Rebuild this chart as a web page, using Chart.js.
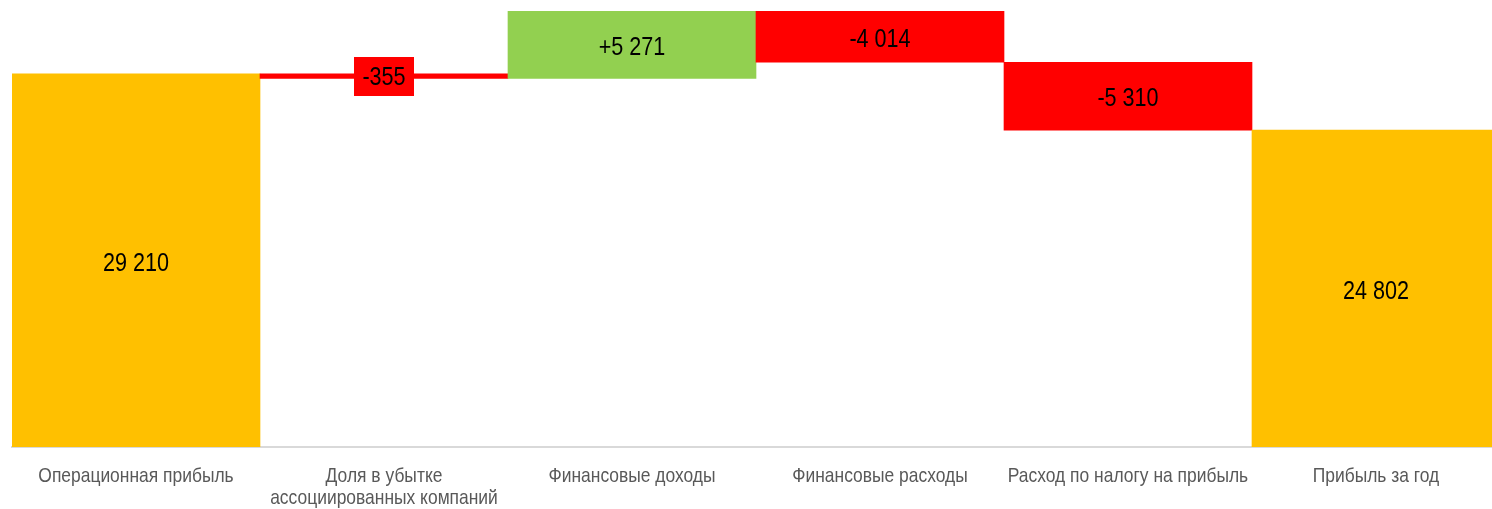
<!DOCTYPE html>
<html>
<head>
<meta charset="utf-8">
<script src="https://cdn.jsdelivr.net/npm/chart.js@4/dist/chart.umd.min.js"></script>
<style>
html,body{margin:0;padding:0;background:#fff;overflow:hidden;width:1492px;height:509px;}
#wrap{position:absolute;left:0;top:0;width:1500px;height:509px;}
</style>
</head>
<body>
<div id="wrap"><canvas id="c" width="1500" height="509"></canvas></div>
<script>
const categories = [
  "Операционная прибыль",
  ["Доля в убытке", "ассоциированных компаний"],
  "Финансовые доходы",
  "Финансовые расходы",
  "Расход по налогу на прибыль",
  "Прибыль за год"
];
const values = [29210, -355, 5271, -4014, -5310, 24802];
const isTotal = [true, false, false, false, false, true];
const valueLabels = ["29 210", "-355", "+5 271", "-4 014", "-5 310", "24 802"];
const boxedLabel = [false, true, false, false, false, false];

const GOLD = "#FFC000", RED = "#FF0000", GREEN = "#92D050";

let run = 0;
const ranges = values.map((v, i) => {
  if (isTotal[i]) { run = v; return [0, v]; }
  const s = run; run += v; return [s, run];
});
const colors = values.map((v, i) => isTotal[i] ? GOLD : (v < 0 ? RED : GREEN));
const peak = Math.max(...ranges.map(r => Math.max(r[0], r[1])));

const FONT = "'Liberation Sans', Arial, sans-serif";
const NARROW = 0.83;

function narrowText(ctx, txt, x, y) {
  ctx.save();
  ctx.translate(x, y);
  ctx.scale(NARROW, 1);
  ctx.fillText(txt, 0, 0);
  ctx.restore();
}

const labelPlugin = {
  id: 'vlabels',
  afterDatasetsDraw(chart) {
    const ctx = chart.ctx;
    const meta = chart.getDatasetMeta(0);
    ctx.save();
    ctx.font = "26px " + FONT;
    ctx.textAlign = "center";
    ctx.textBaseline = "middle";
    meta.data.forEach((bar, i) => {
      const cx = bar.x;
      const cy = (bar.y + bar.base) / 2;
      const txt = valueLabels[i];
      if (boxedLabel[i]) {
        const w = ctx.measureText(txt).width * NARROW + 17;
        const h = 39;
        ctx.fillStyle = colors[i];
        ctx.fillRect(Math.round(cx - w / 2), Math.round(cy - h / 2), Math.round(w), h);
      }
      ctx.fillStyle = "#000";
      narrowText(ctx, txt, cx, cy + (boxedLabel[i] ? 2 : 3));
    });
    ctx.restore();
  },
  afterDraw(chart) {
    const ctx = chart.ctx;
    const xs = chart.scales.x;
    ctx.save();
    ctx.font = "21px " + FONT;
    ctx.fillStyle = "#595959";
    ctx.textAlign = "center";
    ctx.textBaseline = "middle";
    categories.forEach((lab, i) => {
      const x = xs.getPixelForTick(i);
      const lines = Array.isArray(lab) ? lab : [lab];
      lines.forEach((ln, j) => {
        narrowText(ctx, ln, x, xs.top + 29 + j * 22);
      });
    });
    ctx.restore();
  }
};

new Chart(document.getElementById('c'), {
  type: 'bar',
  data: {
    labels: categories,
    datasets: [{
      data: ranges,
      backgroundColor: colors,
      borderWidth: 0,
      borderSkipped: false,
      barPercentage: 1,
      categoryPercentage: 1
    }]
  },
  options: {
    responsive: false,
    animation: false,
    layout: { padding: { left: 12, right: 0, top: 11, bottom: 0 } },
    plugins: { legend: { display: false }, tooltip: { enabled: false } },
    scales: {
      x: {
        grid: { display: false, drawTicks: false },
        border: { display: true, color: "#D9D9D9", width: 2 },
        ticks: {
          color: "rgba(0,0,0,0)",
          font: { family: FONT, size: 21, lineHeight: 1.05 },
          padding: 16,
          maxRotation: 0,
          autoSkip: false
        },
        afterFit(scale) { scale.height = 62; }
      },
      y: {
        display: false,
        min: 0,
        max: peak
      }
    }
  },
  plugins: [labelPlugin]
});
</script>
</body>
</html>
